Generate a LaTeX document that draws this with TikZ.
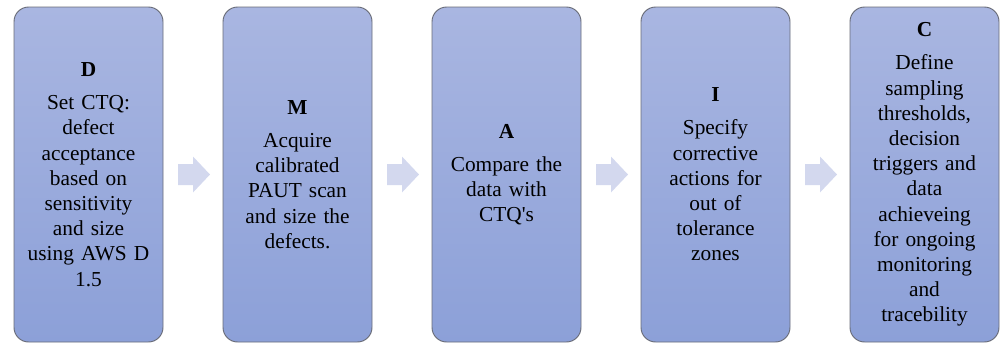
\documentclass[tikz,border=0pt]{standalone}
\usepackage{fontspec}
\setmainfont{Liberation Serif}
\usetikzlibrary{calc}
\definecolor{boxtop}{RGB}{169,182,225}
\definecolor{boxbot}{RGB}{140,160,216}
\definecolor{boxline}{RGB}{105,108,120}
\definecolor{arrowfill}{RGB}{211,216,238}
\tikzset{
  stepbox/.style={draw=boxline, line width=0.7pt, rounded corners=11pt,
    top color=boxtop, bottom color=boxbot,
    minimum width=111.75pt, minimum height=251.25pt, inner sep=0pt,
    text width=108pt, align=center,
    font=\fontsize{16}{18.9}\selectfont},
  flowarrow/.style={fill=arrowfill, draw=none}
}
\newcommand{\hd}[1]{\textbf{#1}\\[6pt]}
\begin{document}
\begin{tikzpicture}[x=0.75pt, y=-0.75pt]
  \useasboundingbox (0,0) rectangle (1001,344);
  \node[stepbox] (d) at (88.5,174.5) {\hd{D}Set CTQ:\\defect\\acceptance\\based on\\sensitivity\\and size\\using AWS D\\1.5};
  \node[stepbox] (m) at (297.5,174.5) {\hd{M}Acquire\\calibrated\\PAUT scan\\and size the\\defects.};
  \node[stepbox] (a) at (506.5,174.5) {\hd{A}Compare the\\data with\\CTQ\textquotesingle s};
  \node[stepbox] (i) at (715.5,174.5) {\hd{I}Specify\\corrective\\actions for\\out of\\tolerance\\zones};
  \node[stepbox] (c) at (924.5,174.5) {\hd{C}Define\\sampling\\thresholds,\\decision\\triggers and\\data\\achieveing\\for ongoing\\monitoring\\and\\tracebility};
  % block arrows between consecutive steps
  \foreach \p/\q in {d/m, m/a, a/i, i/c} {
    \coordinate (mid-\p) at ($(\p.east)!0.5!(\q.west)$);
    \fill[flowarrow] ($(mid-\p)+(-15,-10.5)$) -- ($(mid-\p)+(0,-10.5)$)
      -- ($(mid-\p)+(0,-18)$) -- ($(mid-\p)+(17,0)$) -- ($(mid-\p)+(0,18)$)
      -- ($(mid-\p)+(0,10.5)$) -- ($(mid-\p)+(-15,10.5)$) -- cycle;
  }
\end{tikzpicture}
\end{document}
